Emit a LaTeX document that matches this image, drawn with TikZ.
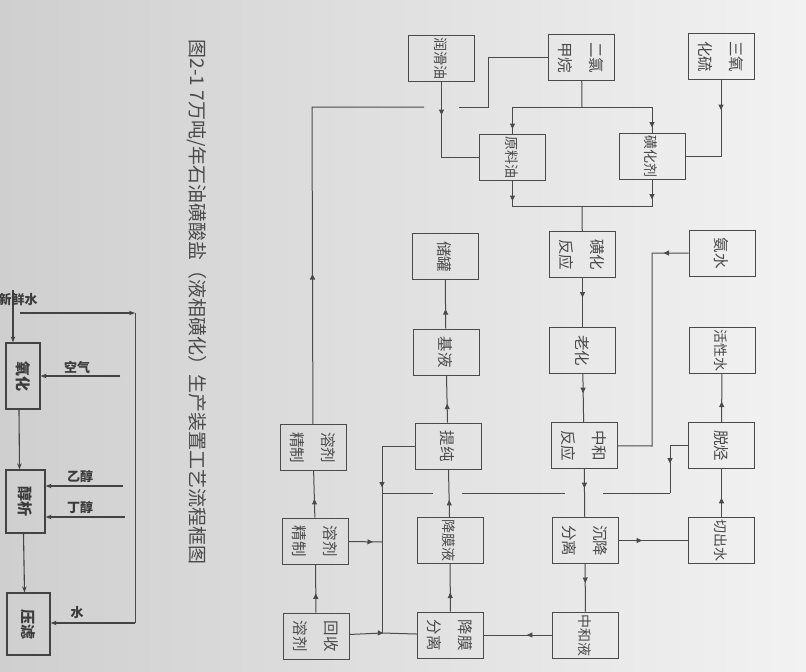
\documentclass[tikz,border=0pt]{standalone}
\usepackage{fontspec}
\newfontfamily\cjk{Noto Sans CJK SC}
\usetikzlibrary{arrows.meta,decorations.markings,calc}
\definecolor{ink}{HTML}{4A4A4A}
\definecolor{paperL}{HTML}{CFCFCF}
\definecolor{paperR}{HTML}{F2F2F2}
\newcommand\rt[1]{\rotatebox{-90}{\begin{tabular}{@{}c@{}}#1\end{tabular}}}
\tikzset{
  tri/.tip={Triangle[length=5.5pt,width=5pt]},
  box/.style={draw=ink, line width=1pt, minimum width=66pt, minimum height=46pt,
    inner sep=0pt, text=ink, font=\cjk\fontsize{15.5}{31}\selectfont},
  small/.style={font=\cjk\fontsize{14}{31}\selectfont},
  ln/.style={draw=ink, line width=1pt},
  mk/.style={postaction={decorate,decoration={markings,mark=at position #1 with {\arrow{tri}}}}},
  sbox/.style={draw=ink!90!black, line width=1.2pt, inner sep=0pt, text=ink!80!black,
    font=\cjk\bfseries\fontsize{15}{30}\selectfont},
  sarr/.style={draw=ink!90!black, line width=1.1pt, -{Stealth[length=6pt,width=4.5pt]}},
  lab/.style={text=ink!80!black, font=\cjk\bfseries\fontsize{13}{15}\selectfont, inner sep=0pt}
}
\begin{document}
\begin{tikzpicture}[x=1pt,y=-1pt]
\useasboundingbox (0,0) rectangle (806,672);
\shade[left color=paperL, right color=paperR] (0,0) rectangle (806,672);

% caption
\node[rotate=-90, text=ink, font=\cjk\fontsize{19}{20}\selectfont, inner sep=0pt] (cap) at (197,302)
  {图2-1 7万吨/年石油磺酸盐（液相磺化）生产装置工艺流程框图};

% top row
\node[box,small] (run) at (441.5,58.5) {\rt{润滑油}};
\node[box] (dcm) at (581.5,57.5) {\rt{二氯\\甲烷}};
\node[box] (so3) at (721,56.5) {\rt{三氧\\化硫}};
\node[box,small] (yl) at (512.5,157.5) {\rt{原料油}};
\node[box,small] (hj) at (652,156) {\rt{磺化剂}};

% middle column
\node[box] (hf) at (582.5,254.5) {\rt{磺化\\反应}};
\node[box] (lh) at (582.5,350.5) {\rt{老化}};
\node[box] (zh) at (584,445.5) {\rt{中和\\反应}};
\node[box] (cj) at (585,540.5) {\rt{沉降\\分离}};
\node[box,small] (zhy) at (585.5,635) {\rt{中和液}};

% right column
\node[box] (as) at (722,253) {\rt{氨水}};
\node[box,small] (hx) at (722,350) {\rt{活性水}};
\node[box] (tt) at (721.5,445.5) {\rt{脱烃}};
\node[box,small] (cc) at (721.5,540.5) {\rt{切出水}};

% left-middle column
\node[box] (cg) at (445,256.5) {\rt{储罐}};
\node[box] (jy) at (446,352) {\rt{基液}};
\node[box] (tc) at (448,446) {\rt{提纯}};
\node[box,small] (jmy) at (450,540.5) {\rt{降膜液}};
\node[box] (jmf) at (450.5,635) {\rt{降膜\\分离}};

% left column
\node[box] (rj1) at (313,447.5) {\rt{溶剂\\精制}};
\node[box] (rj2) at (315.5,541) {\rt{溶剂\\精制}};
\node[box] (hs) at (316,636) {\rt{回收\\溶剂}};

% coordinates
\coordinate (j1) at (582,107);
\coordinate (j2) at (582,206);
\coordinate (k1) at (312,107);
\coordinate (g1) at (424,107);
\coordinate (g2) at (459,107);
\coordinate (k2) at (488,107);
\coordinate (v1) at (382,633);
\coordinate (h1) at (670,493);
\coordinate (h2) at (603,493);
\coordinate (h3) at (565,493);
\coordinate (h4) at (462,493);
\coordinate (h5) at (433,493);
\coordinate (h6) at (382,493);
\coordinate (a2) at (652,446);
\coordinate (r1) at (382,542);

% top connectors
\draw[ln,mk=33pt] (run) |- (yl);
\draw[ln] (dcm) -- (j1);
\draw[ln,mk=-5pt] (j1) -| (yl);
\draw[ln,mk=-5pt] (j1) -| (hj);
\draw[ln,mk=30pt] (so3) |- (hj);
\draw[ln,mk=20pt] (yl) |- (j2);
\draw[ln,mk=20pt] (hj) |- (j2);
\draw[ln] (j2) -- (hf);

% solvent recycle
\draw[ln,mk=150pt] (rj1) -- (k1) -- (g1);
\draw[ln] (g2) -- (k2) |- (dcm);

% main column
\draw[ln,mk=0.4] (hf) -- (lh);
\draw[ln,mk=0.4] (lh) -- (zh);
\draw[ln,mk=0.4] (zh) -- (cj);
\draw[ln,mk=0.4] (cj) -- (zhy);
\draw[ln,mk=0.37] (zhy) -- (jmf);
\draw[ln,mk=0.4] (jmf) -- (jmy);
\draw[ln,mk=0.36] (jmy) -- (tc);
\draw[ln,mk=0.4] (tc) -- (jy);
\draw[ln,mk=0.4] (jy) -- (cg);

% left collecting line
\draw[ln,mk=74pt] (tc) -| (v1);
\draw[ln,mk=24pt] (rj2) -- (r1);
\draw[ln,mk=0.5] (hs) -- (v1) -- (jmf);
\draw[ln,mk=0.4] (hs) -- (rj2);
\draw[ln,mk=0.4] (rj2) -- (rj1);

% right side
\draw[ln,mk=25pt] (as) -| (a2) -- (zh);
\draw[ln,mk=0.42] (tt) -- (hx);
\draw[ln,mk=0.4] (cc) -- (tt);
\draw[ln,mk=0.34] (cj) -- (cc);
\draw[ln,mk=36pt] (tt) -| (h1);
\draw[ln] (h1) -- (h2);
\draw[ln] (h3) -- (h4);
\draw[ln] (h5) -- (h6);

% lower-left fragment of the next figure
\node[sbox, minimum width=34pt, minimum height=66pt] (ox) at (23,376) {\rotatebox{-90}{氧化}};
\node[sbox, minimum width=39pt, minimum height=63pt] (cx) at (25.5,501.5) {\rotatebox{-90}{醇析}};
\node[sbox, minimum width=43pt, minimum height=62pt] (yz) at (28.5,624) {\rotatebox{-90}{压滤}};
\coordinate (s0) at (13,290);
\coordinate (w0) at (20,313);
\coordinate (w1) at (135,313);
\coordinate (w2) at (135,623);
\coordinate (q1) at (120,376);
\coordinate (q2) at (123,486);
\coordinate (q3) at (125,517);
\draw[sarr] (s0) -- (ox.north -| s0);
\draw[sarr] (w0) -- (w1);
\draw[ln] (w1) -- (w2);
\draw[sarr] (w2) -- (yz.east |- w2);
\draw[sarr] (q1) -- (ox.east |- q1);
\draw[sarr] (q2) -- (cx.east |- q2);
\draw[sarr] (q3) -- (cx.east |- q3);
\draw[sarr] ($(ox.south)+(-4,0)$) -- ($(cx.north)+(-6,0)$);
\draw[sarr] ($(cx.south)+(-2,0)$) -- ($(yz.north)+(-4,0)$);
\node[lab] (l0) at (18,300) {新鲜水};
\node[lab] (l1) at (77,367) {空气};
\node[lab] (l2) at (80,477) {乙醇};
\node[lab] (l3) at (80,508) {丁醇};
\node[lab] (l4) at (77,613) {水};
\end{tikzpicture}
\end{document}
